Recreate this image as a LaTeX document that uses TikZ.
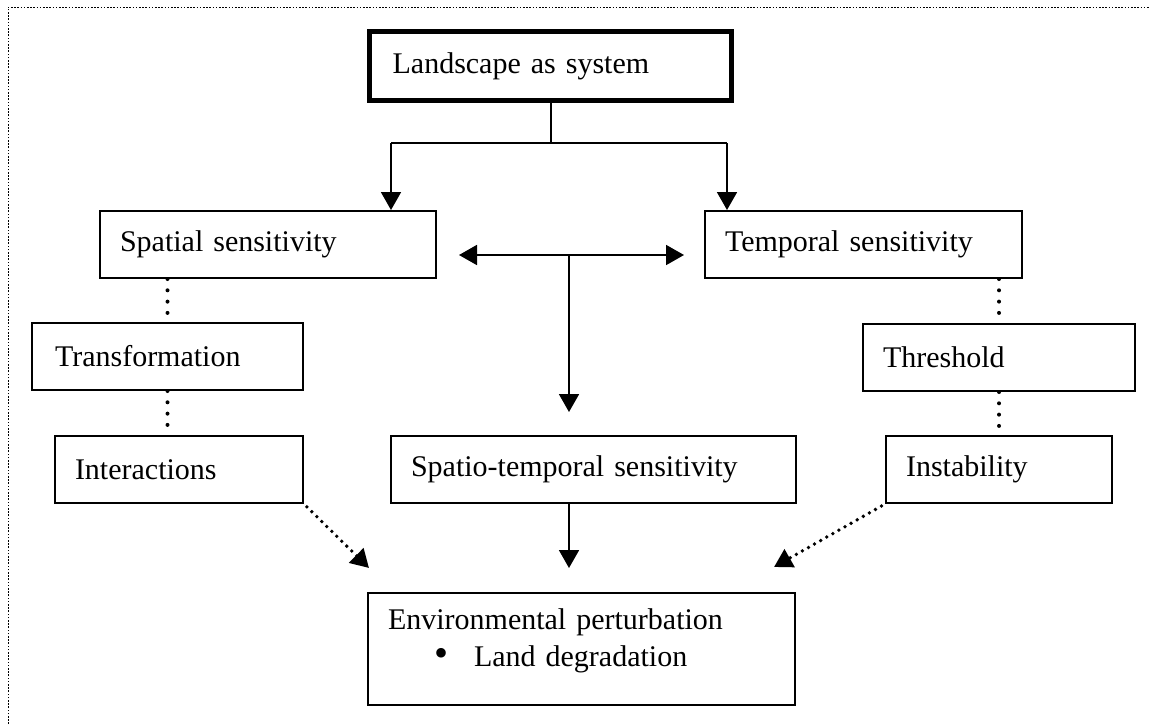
\documentclass[tikz,border=0pt]{standalone}
\usepackage{fontspec}
\setmainfont{Liberation Serif}
\usetikzlibrary{arrows.meta}

\begin{document}
\begin{tikzpicture}[x=0.5pt, y=-0.5pt,
        box/.style={draw, line width=1pt, anchor=north west, inner xsep=10pt, inner ysep=0pt,
            align=left, font=\fontsize{15}{18.5}\selectfont},
        link/.style={line width=0.9pt},
        headed/.style={-{Triangle[length=9pt, width=10pt]}},
        dotline/.style={line width=2pt, line cap=round, dash pattern=on 0pt off 5.65pt},
        dotdiag/.style={line width=1.9pt, line cap=round, dash pattern=on 0pt off 3.5pt},
        pageframe/.style={line width=0.5pt, dash pattern=on 0.8pt off 0.8pt}]
            \useasboundingbox (0,0) rectangle (1149,724);

            % Marco punteado de la pagina
            \draw[pageframe] (8,724) -- (8,7) -- (1149,7);

            % Cajas
            \node[box, line width=2.6pt, inner xsep=11.5pt, text width=158pt, minimum width=181pt, minimum height=34.5pt] (land) at (367,29) {Landscape as system};
            \node[box, text width=148pt, minimum width=168pt, minimum height=33.5pt] (spat) at (99,210) {Spatial sensitivity};
            \node[box, text width=138.5pt, minimum width=158.5pt, minimum height=33.5pt] (temp) at (704,210) {Temporal sensitivity};
            \node[box, inner xsep=11.5pt, text width=112.5pt, minimum width=135.5pt, minimum height=33.5pt] (trans) at (31,322) {Transformation};
            \node[box, text width=116pt, minimum width=136pt, minimum height=33.5pt] (thr) at (862,323) {Threshold};
            \node[box, text width=104pt, minimum width=124pt, minimum height=33.5pt] (inter) at (54,435) {Interactions};
            \node[box, text width=182.5pt, minimum width=202.5pt, minimum height=33.5pt] (spt) at (390,435) {Spatio-temporal sensitivity};
            \node[box, text width=93pt, minimum width=113pt, minimum height=33.5pt] (inst) at (885,435) {Instability};
            \node[box, text width=193.5pt, minimum width=213.5pt, minimum height=56pt] (env) at (367,592)
                {Environmental perturbation\\\hspace*{23pt}{\fontsize{20}{20}\selectfont\textbullet}\hspace{13pt}Land degradation\rule[-11pt]{0pt}{11pt}};

            % Puntos de union
            \coordinate (forkl) at (391,143);
            \coordinate (forkr) at (727,143);
            \coordinate (midl) at (459,255);
            \coordinate (midr) at (684,255);
            \coordinate (mid) at (569,255);
            \coordinate (envl) at (369,568);
            \coordinate (envr) at (774,567);

            % Flechas
            \draw[link] (land.south) -- (land.south |- forkl);
            \draw[link] (forkl) -- (forkr);
            \draw[link, headed] (forkl) -- (forkl |- spat.north);
            \draw[link, headed] (forkr) -- (forkr |- temp.north);
            \draw[link, {Triangle[length=9pt, width=10pt]}-{Triangle[length=9pt, width=10pt]}] (midl) -- (midr);
            \draw[link, headed, shorten >=11.5pt] (mid) -- (mid |- spt.north);
            \draw[link, headed, shorten >=12pt] (spt.south -| mid) -- (env.north -| mid);

            % Lineas punteadas
            \draw[dotline] (spat.south -| trans.north) -- (trans.north);
            \draw[dotline] (trans.south) -- (trans.south |- inter.north);
            \draw[dotline] (temp.south -| thr.north) -- (thr.north);
            \draw[dotline] (thr.south) -- (thr.south |- inst.north);
            \draw[dotdiag, headed, shorten <=2pt] (inter.south east) -- (envl);
            \draw[dotdiag, headed, shorten <=2pt] (inst.south west) -- (envr);
        \end{tikzpicture}
\end{document}
